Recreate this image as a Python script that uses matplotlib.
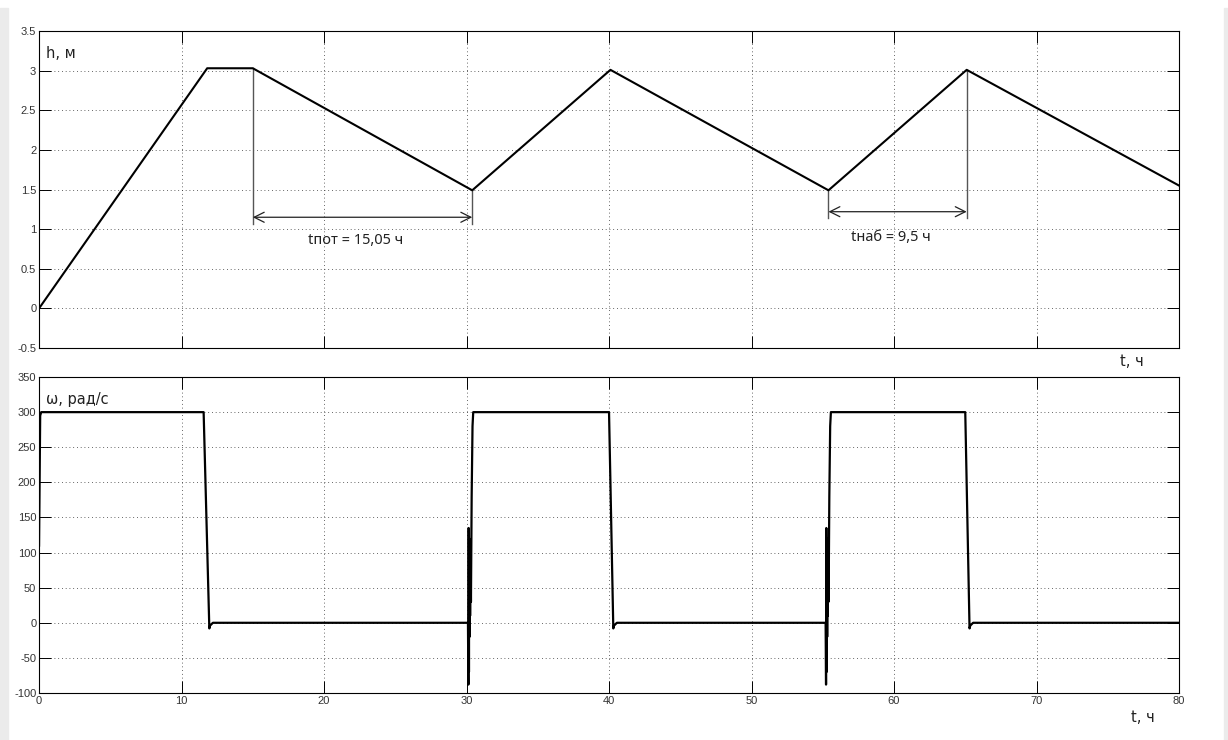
import matplotlib
matplotlib.use('Agg')
import matplotlib.pyplot as plt
from matplotlib.patches import Rectangle

plt.rcParams['axes.unicode_minus'] = False

# уровень воды h(t)
h_t = [0, 11.8, 15.0, 30.4, 40.1, 55.4, 65.1, 80]
h_v = [0, 3.03, 3.03, 1.49, 3.01, 1.49, 3.01, 1.55]

# скорость насоса w(t)
w_t = [0, 0.08, 0.15, 11.55, 11.95, 12.0, 12.2,
       30.1, 30.13, 30.15, 30.17, 30.19, 30.21, 30.23, 30.25, 30.28, 30.31, 30.36, 30.42, 30.47,
       40.0, 40.3, 40.35, 40.55,
       55.2, 55.23, 55.25, 55.27, 55.29, 55.31, 55.33, 55.35, 55.38, 55.41, 55.46, 55.52, 55.57,
       65.0, 65.3, 65.35, 65.55, 80]
w_v = [110, 295, 300, 300, -8, -4, 0,
       0, -88, 135, -70, 120, -20, 100, 10, 90, 30, 180, 280, 300,
       300, -8, -4, 0,
       0, -88, 135, -70, 120, -20, 100, 10, 90, 30, 180, 280, 300,
       300, -8, -4, 0, 0]

h_ticks = [-0.5, 0, 0.5, 1, 1.5, 2, 2.5, 3, 3.5]
h_labels = ['-0.5', '0', '0.5', '1', '1.5', '2', '2.5', '3', '3.5']
w_ticks = [-100, -50, 0, 50, 100, 150, 200, 250, 300, 350]
t_ticks = [0, 10, 20, 30, 40, 50, 60, 70, 80]

# размеченные интервалы: (t1, t2, h1, h2, высота стрелки, высота текста, подпись)
spans = [(15.0, 30.4, 3.03, 1.49, 1.15, 0.86, 'tпот = 15,05 ч'),
         (55.4, 65.1, 1.49, 3.01, 1.22, 0.90, 'tнаб = 9,5 ч')]

fig = plt.figure(figsize=(12.28, 7.40), dpi=100)
fig.patches.append(Rectangle((0, 0), 8 / 1228, 732 / 740, transform=fig.transFigure,
                             color='#ebebeb', zorder=0))
fig.patches.append(Rectangle((1224 / 1228, 0), 4 / 1228, 732 / 740, transform=fig.transFigure,
                             color='#ebebeb', zorder=0))

ax1 = fig.add_axes([0.0318, 0.5297, 0.9283, 0.4284])
ax2 = fig.add_axes([0.0318, 0.0635, 0.9283, 0.4270])

ax1.plot(h_t, h_v, color='black', lw=1.5, zorder=3)
ax2.plot(w_t, w_v, color='black', lw=1.6, zorder=3)

ax1.set_ylim(-0.5, 3.5)
ax1.set_yticks(h_ticks)
ax1.set_yticklabels(h_labels)
ax2.set_ylim(-100, 350)
ax2.set_yticks(w_ticks)

for ax in (ax1, ax2):
    ax.set_xlim(0, 80)
    ax.set_xticks(t_ticks)
    ax.grid(True, color='#333333', lw=0.6, dashes=(1, 3.5))
    ax.tick_params(direction='in', length=8.5, width=0.7, top=True, right=True,
                   labelsize=8, pad=2, labelcolor='#333333')
    for s in ax.spines.values():
        s.set_linewidth(0.8)
    for lab in ax.get_xticklabels() + ax.get_yticklabels():
        lab.set_family('Liberation Sans')

ax1.tick_params(labelbottom=False)

for t1, t2, y1, y2, ya, yt, txt in spans:
    ax1.plot([t1, t1], [y1, ya - 0.08], color='#555555', lw=1.0, zorder=2)
    ax1.plot([t2, t2], [y2, ya - 0.08], color='#555555', lw=1.0, zorder=2)
    ax1.annotate('', xy=(t1, ya), xytext=(t2, ya),
                 arrowprops=dict(arrowstyle='<->', color='#222222', lw=0.9,
                                 shrinkA=0, shrinkB=0, mutation_scale=18))
    ax1.text((t1 + t2) / 2 - 0.5, yt, txt, ha='center', va='center',
             fontsize=10.5, family='Noto Sans', color='#222222')

ax1.text(0.006, 0.93, 'h, м', transform=ax1.transAxes, fontsize=10.5,
         family='DejaVu Sans', color='#222222', va='center')
ax2.text(0.006, 0.93, 'ω, рад/с', transform=ax2.transAxes, fontsize=10.5,
         family='DejaVu Sans', color='#222222', va='center')
fig.text(1132 / 1228, 1 - 362 / 740, 't, ч', fontsize=10.5, family='DejaVu Sans',
         color='#222222', ha='center', va='center')
fig.text(1143 / 1228, 1 - 718 / 740, 't, ч', fontsize=10.5, family='DejaVu Sans',
         color='#222222', ha='center', va='center')

fig.savefig('out.png', dpi=100)
